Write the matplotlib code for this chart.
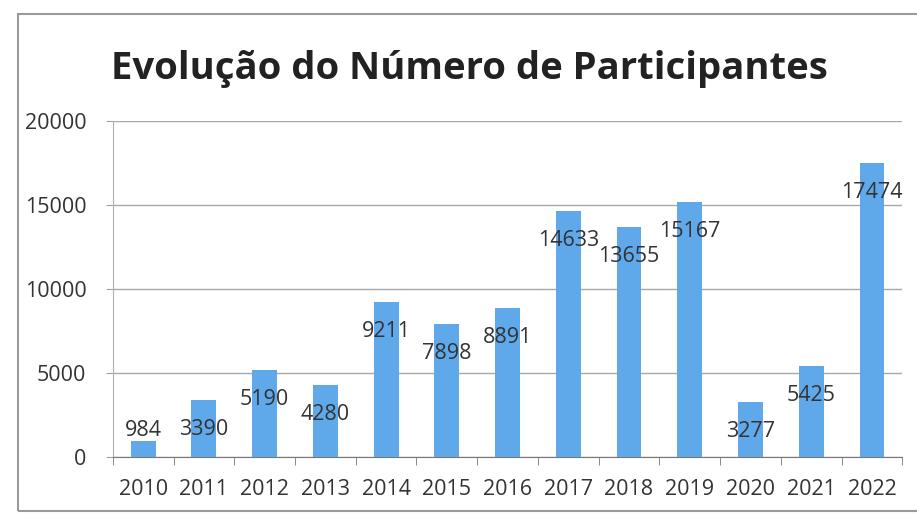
import matplotlib.pyplot as plt
from matplotlib.patches import Rectangle
import numpy as np

anos = ['2010', '2011', '2012', '2013', '2014', '2015', '2016',
        '2017', '2018', '2019', '2020', '2021', '2022']
participantes = [984, 3390, 5190, 4280, 9211, 7898, 8891,
                 14633, 13655, 15167, 3277, 5425, 17474]
y_ticks = [0, 5000, 10000, 15000, 20000]

cor_barra = '#5FA8EA'
cor_texto = '#333333'

fig = plt.figure(figsize=(9.17, 5.16), dpi=100)
ax = fig.add_axes([0.123, 0.114, 0.861, 0.652])

x = np.arange(len(anos))
ax.bar(x, participantes, width=0.41, color=cor_barra, zorder=3)

# rótulos: dentro do topo da barra, ou acima se a barra for curta
for xi, v in zip(x, participantes):
    if v < 2000:
        y = v + 620
    else:
        y = v - 1750
    ax.text(xi, y, str(v), ha='center', va='center', fontsize=15.5,
            family='Open Sans', color=cor_texto, zorder=4)

ax.set_xlim(-0.5, len(anos) - 0.5)
ax.set_ylim(0, 20000)
ax.set_yticks(y_ticks)
ax.set_yticklabels([str(t) for t in y_ticks], family='Open Sans',
                   fontsize=15.5, color=cor_texto)
ax.set_xticks(x)
ax.set_xticklabels(anos, family='Open Sans', fontsize=15.5, color=cor_texto)
ax.set_xticks(np.arange(-0.5, len(anos), 1), minor=True)
ax.tick_params(axis='x', which='major', length=0, pad=16)
ax.tick_params(axis='x', which='minor', length=6, color='#777777')
ax.tick_params(axis='y', length=5, color='#A0A0A0', pad=14)

ax.grid(axis='y', color='#A8A8A8', linewidth=1, zorder=0)
for s in ['top', 'right']:
    ax.spines[s].set_visible(False)
ax.spines['left'].set_color('#B0B0B0')
ax.spines['bottom'].set_color('#777777')

fig.text(0.512, 0.866, 'Evolução do Número de Participantes',
         ha='center', va='center', fontsize=27.5, fontweight='bold',
         family='Open Sans', color='#222222')

# moldura do gráfico (lado direito fora da imagem)
fig.patches.append(Rectangle((0.020, 0.010), 1.0, 0.962,
                             transform=fig.transFigure, fill=False,
                             edgecolor='#9A9A9A', linewidth=1.5))

fig.savefig('out.png', dpi=100)
